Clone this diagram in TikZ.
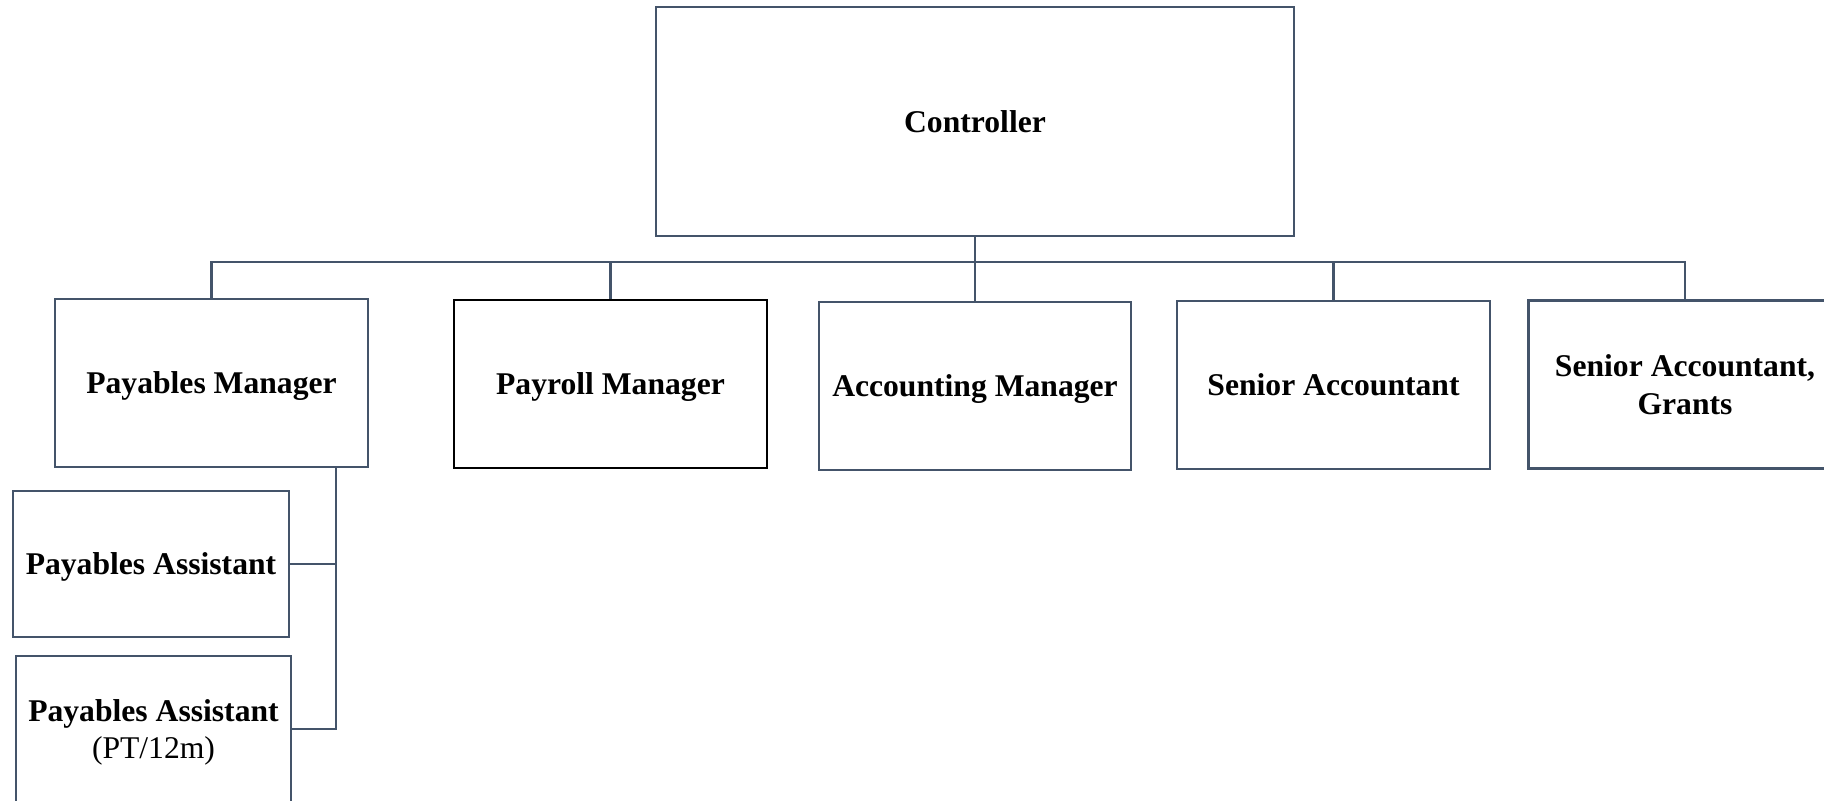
\documentclass[tikz,border=0pt]{standalone}
\usepackage{fontspec}
\setmainfont{Liberation Serif}
\definecolor{linegray}{HTML}{44546A}
\begin{document}
\begin{tikzpicture}[scale=0.1]
    \tikzstyle{every node}+=[inner sep=0pt, font=\fontsize{9}{10.8}\selectfont\bfseries]
    \tikzstyle{post}=[draw=linegray, line width=0.65pt, minimum width=3.13cm, minimum height=1.68cm, align=center, text depth=0pt]
    \tikzstyle{link}=[linegray, line width=0.65pt]
    \useasboundingbox (0,0) rectangle (182.4,-80);
    \clip (0,0) rectangle (182.4,-80);
    \node [post, minimum width=6.38cm, minimum height=2.29cm] (ctrl) at (97.5,-12.15) {Controller};
    \node [post] (pm) at (21.15,-38.3) {Payables Manager};
    \node [post, draw=black, line width=0.8pt] (pr) at (61.05,-38.4) {Payroll Manager};
    \node [post, minimum width=3.12cm] (am) at (97.5,-38.6) {Accounting Manager};
    \node [post] (sa) at (133.35,-38.5) {Senior Accountant};
    \node [post] (sg) at (168.5,-38.45) {Senior Accountant,\\Grants};
    \node [post, minimum width=2.76cm, minimum height=1.46cm] (pa1) at (15.1,-56.4) {Payables Assistant};
    \node [post, minimum width=2.75cm, minimum height=1.46cm] (pa2) at (15.35,-72.9) {Payables Assistant\\{\mdseries (PT/12m)}};
    \coordinate (bus) at (97.5,-26.2);
    \coordinate (pmdrop) at (33.6,-46.7);
    \draw [link] (ctrl.south) -- (bus);
    \draw [link] (bus) -| (pm.north);
    \draw [link] (bus) -| (pr.north);
    \draw [link] (bus) -- (am.north);
    \draw [link] (bus) -| (sa.north);
    \draw [link] (bus) -| (sg.north);
    \draw [link] (pmdrop) |- (pa2.east);
    \draw [link] (pa1.east) -- (pa1.east -| pmdrop);
\end{tikzpicture}
\end{document}
